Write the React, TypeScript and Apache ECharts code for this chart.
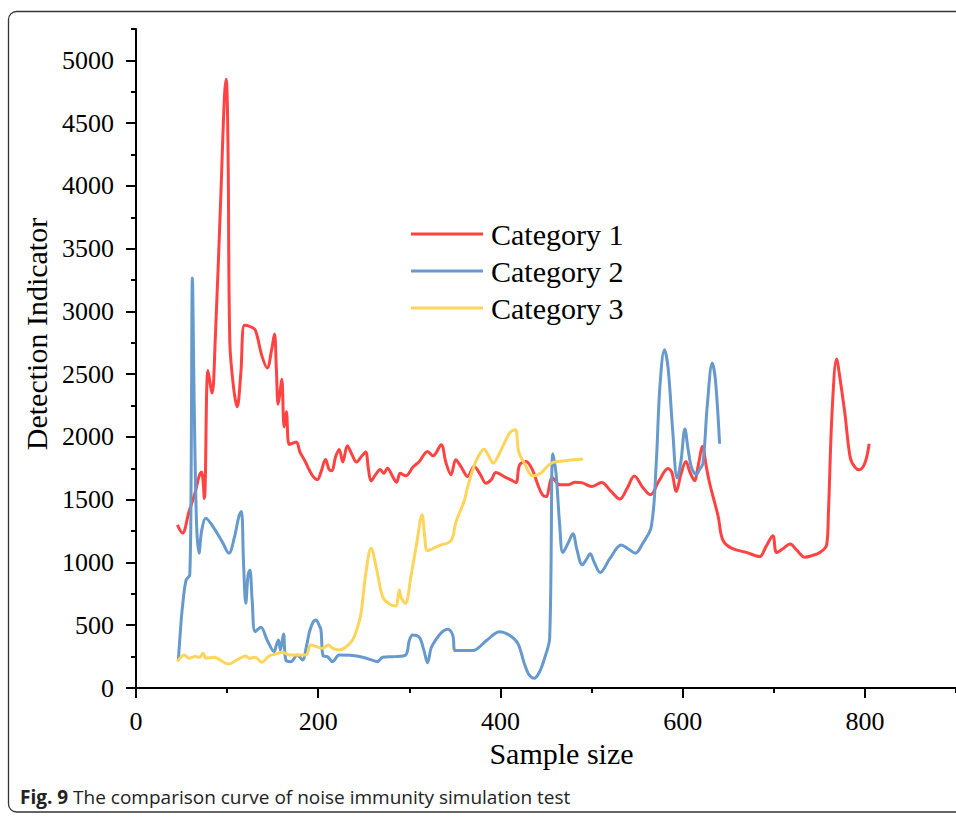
import React, { useEffect, useRef } from "react";
import * as echarts from "echarts";

// Category 1 (red)
const cat1X = [45.4, 51, 58, 65, 69, 72, 75, 79, 83.5, 87, 93, 97, 99, 101, 103, 107, 111, 115, 119, 125, 131, 138, 144, 149, 152, 154, 156, 158, 160, 162.6, 165, 168, 172, 176, 180, 186, 193, 199, 203, 208, 212, 215, 219, 223, 227, 232, 237, 242, 247, 252, 255, 258, 263, 268, 272, 276, 282, 286, 290, 296, 304, 311, 320, 326, 335, 340, 345.8, 351, 357, 364, 371, 378, 384, 390, 395, 405, 411, 417, 421, 428, 435, 441, 446, 450, 457, 465, 475, 482, 490, 500, 511, 521, 531, 539, 547, 556, 564.5, 574, 584, 588, 593, 598, 603.5, 608, 613, 617, 621.8, 626, 630, 635, 639, 644, 653.5, 670, 684.6, 691, 699, 703, 710, 718, 725, 734, 742, 750.5, 758, 760, 764, 769, 773, 778, 784, 789, 793.7, 800, 804.7];
const cat1Y = [1300, 1234, 1400, 1560, 1680, 1720, 1510, 2530, 2350, 2780, 3900, 4700, 4850, 4300, 2750, 2400, 2240, 2500, 2890, 2880, 2850, 2650, 2550, 2700, 2820, 2550, 2260, 2350, 2460, 2080, 2200, 1940, 1950, 1960, 1880, 1800, 1700, 1660, 1720, 1820, 1740, 1730, 1840, 1900, 1800, 1930, 1860, 1800, 1840, 1880, 1750, 1650, 1700, 1740, 1710, 1750, 1680, 1640, 1710, 1690, 1760, 1805, 1884, 1850, 1938, 1800, 1699, 1818, 1760, 1685, 1765, 1700, 1632, 1660, 1717, 1680, 1660, 1637, 1778, 1805, 1740, 1620, 1540, 1525, 1675, 1619, 1620, 1640, 1634, 1605, 1637, 1570, 1505, 1590, 1688, 1600, 1539, 1650, 1748, 1720, 1566, 1700, 1805, 1720, 1653, 1770, 1924, 1760, 1619, 1480, 1366, 1180, 1114, 1080, 1047, 1120, 1212, 1079, 1110, 1148, 1100, 1042, 1055, 1079, 1140, 1400, 2200, 2621, 2450, 2190, 1832, 1760, 1738, 1792, 1946];

// Category 2 (blue)
const cat2X = [46.5, 49, 51, 55, 59, 60.5, 61.9, 64, 66.5, 69.2, 72, 76.6, 85, 95, 102, 108, 113, 115.7, 118, 120.5, 123, 125, 127.5, 130.8, 137, 144, 151.6, 154, 156.4, 158.5, 161.9, 164.5, 170, 177, 182.8, 187, 190, 194, 197.5, 201, 203, 205.5, 210, 215.8, 223, 235, 248.7, 260, 265, 270.7, 284, 296, 300, 303.6, 311, 316, 320, 324, 329, 335, 342, 347.6, 350.5, 360, 369.6, 385, 399, 410, 419, 426, 431, 437, 443, 449, 454, 457.5, 461, 465, 468.5, 474, 479.5, 484, 489.7, 494, 498.5, 503, 509.5, 520, 532.6, 540, 548, 556, 565.6, 571, 575, 580, 584, 589, 594, 598, 602.5, 606, 610, 615, 618.5, 622.3, 627, 632.5, 636, 640.5];
const cat2Y = [223, 480, 648, 861, 901, 1700, 3267, 2200, 1300, 1074, 1250, 1353, 1280, 1160, 1074, 1200, 1370, 1406, 1000, 675, 900, 941, 700, 449, 484, 380, 290, 340, 383, 303, 430, 223, 210, 263, 223, 330, 436, 520, 542, 500, 462, 255, 250, 210, 263, 260, 245, 220, 210, 245, 250, 263, 380, 423, 404, 300, 202, 320, 383, 440, 468, 423, 298, 298, 298, 380, 449, 420, 356, 200, 110, 77, 130, 250, 396, 1866, 1712, 1300, 1079, 1150, 1228, 1100, 981, 1020, 1069, 1000, 920, 1030, 1140, 1110, 1074, 1150, 1286, 1794, 2400, 2695, 2550, 2057, 1672, 1800, 2063, 1900, 1750, 1700, 1740, 1792, 2250, 2589, 2450, 1946];

// Category 3 (yellow)
const cat3X = [45.4, 49, 52.7, 58, 65, 70, 73.6, 77, 85.7, 93, 101.5, 110, 120.5, 124, 130.8, 138, 146, 153, 160.8, 168, 177, 186.4, 192, 198, 204.8, 211, 216, 223, 230, 237.7, 243, 247, 252, 258, 264, 270.7, 278, 285, 289, 291, 295.6, 302, 308, 314, 317, 320, 333, 345.8, 351, 360, 364, 369.6, 376, 382, 387, 392, 399, 406, 411, 416.5, 420, 427, 435.5, 444, 452, 457.5, 470, 480, 490.5];
const cat3Y = [210, 245, 263, 237, 250, 245, 277, 237, 245, 220, 191, 220, 255, 237, 245, 205, 255, 270, 285, 263, 263, 263, 343, 330, 316, 343, 316, 303, 325, 383, 480, 596, 900, 1114, 950, 728, 670, 654, 781, 720, 675, 900, 1150, 1380, 1200, 1095, 1135, 1175, 1318, 1486, 1600, 1738, 1850, 1903, 1850, 1792, 1870, 1978, 2040, 2057, 1884, 1780, 1690, 1710, 1770, 1797, 1810, 1818, 1824];

const seriesNames = ["Category 1", "Category 2", "Category 3"];
const seriesColors = ["#ff4242", "#6699cc", "#ffd45a"];
const yMajorTicks = [0, 500, 1000, 1500, 2000, 2500, 3000, 3500, 4000, 4500, 5000];
const xMajorTicks = [0, 200, 400, 600, 800];
const xTitle = "Sample size";
const yTitle = "Detection Indicator";
const captionBold = "Fig. 9";
const captionText = " The comparison curve of noise immunity simulation test";

const zip = (xs: number[], ys: number[]) => xs.map((x, i) => [x, ys[i]]);

const serif = "'Liberation Serif', 'Times New Roman', serif";
const plain = (v: number) => String(v);

export default function App() {
  const ref = useRef<HTMLDivElement>(null);
  useEffect(() => {
    if (!ref.current) return;
    const chart = echarts.init(ref.current, undefined, { renderer: "svg" });
    const data = [zip(cat1X, cat1Y), zip(cat2X, cat2Y), zip(cat3X, cat3Y)];
    const axisLine = { show: true, lineStyle: { color: "#000", width: 2 } };
    chart.setOption({
      animation: false,
      backgroundColor: "#fff",
      grid: { left: 136, right: 0, top: 29, bottom: 129, containLabel: false },
      legend: {
        orient: "vertical",
        left: 411,
        top: 219,
        padding: 0,
        icon: "rect",
        itemWidth: 72,
        itemHeight: 3,
        itemGap: 7,
        data: seriesNames,
        textStyle: { fontFamily: serif, fontSize: 30, color: "#000", padding: [0, 0, 0, 3] },
      },
      xAxis: [
        {
          type: "value",
          min: 0,
          max: 900,
          interval: 100,
          axisLine,
          axisTick: { show: true, length: 5, lineStyle: { color: "#000", width: 2 } },
          axisLabel: { show: false },
          splitLine: { show: false },
        },
        {
          type: "value",
          min: 0,
          max: 900,
          interval: 100,
          position: "bottom",
          axisLine: { show: false },
          axisTick: { show: true, length: 10, customValues: xMajorTicks, lineStyle: { color: "#000", width: 2 } },
          axisLabel: { show: true, customValues: xMajorTicks, formatter: plain, margin: 20, fontFamily: serif, fontSize: 26, color: "#000" },
          splitLine: { show: false },
          name: xTitle,
          nameLocation: "middle",
          nameGap: 50,
          nameTextStyle: { fontFamily: serif, fontSize: 30, color: "#000", padding: [0, 0, 0, 31] },
        },
      ],
      yAxis: [
        {
          type: "value",
          min: 0,
          max: 5250,
          interval: 250,
          axisLine,
          axisTick: { show: true, length: 5, lineStyle: { color: "#000", width: 2 } },
          axisLabel: { show: false },
          splitLine: { show: false },
        },
        {
          type: "value",
          min: 0,
          max: 5250,
          interval: 250,
          position: "left",
          axisLine: { show: false },
          axisTick: { show: true, length: 10, customValues: yMajorTicks, lineStyle: { color: "#000", width: 2 } },
          axisLabel: { show: true, customValues: yMajorTicks, formatter: plain, margin: 22, fontFamily: serif, fontSize: 26, color: "#000" },
          splitLine: { show: false },
          name: yTitle,
          nameLocation: "middle",
          nameGap: 82,
          nameTextStyle: { fontFamily: serif, fontSize: 30, color: "#000", padding: [0, 0, 0, 49] },
        },
      ],
      graphic: [
        {
          type: "rect",
          shape: { x: 8.5, y: 11.5, width: 1000, height: 800.5, r: 8 },
          style: { fill: "none", stroke: "#333", lineWidth: 1.3 },
          silent: true,
        },
        {
          type: "text",
          x: 20,
          y: 797,
          style: {
            text: "{b|" + captionBold + "}{n|" + captionText + "}",
            verticalAlign: "middle",
            rich: {
              b: { fontFamily: "'Open Sans', sans-serif", fontSize: 19, fontWeight: "bold", fill: "#222" },
              n: { fontFamily: "'Open Sans', sans-serif", fontSize: 19, fill: "#222" },
            },
          },
        },
      ],
      series: data.map((d, i) => ({
        name: seriesNames[i],
        type: "line",
        data: d,
        xAxisIndex: 0,
        yAxisIndex: 0,
        smooth: 0.35,
        symbol: "none",
        showSymbol: false,
        lineStyle: { color: seriesColors[i], width: 3 },
        itemStyle: { color: seriesColors[i] },
      })),
    });
    return () => chart.dispose();
  }, []);
  return <div ref={ref} style={{ position: "fixed", left: 0, top: 0, width: 956, height: 817 }} />;
}
